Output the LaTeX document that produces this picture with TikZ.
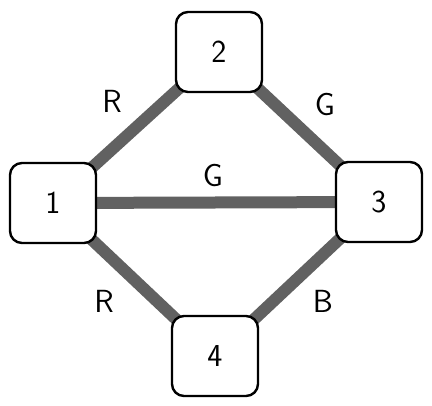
\documentclass[tikz,border=0pt]{standalone}
\usepackage{amsmath,amssymb}
\usetikzlibrary{positioning,backgrounds}

\begin{document}
\begin{tikzpicture}[x=1pt, y=-1pt,
    vertexbox/.style={draw=black, line width=2.4pt, fill=white, rounded corners=12pt,
      minimum width=86pt, minimum height=80pt, inner sep=0pt,
      font=\fontsize{32}{32}\sffamily},
    edgeline/.style={draw=black!62, line width=12pt},
    edgelabel/.style={font=\fontsize{32}{32}\sffamily}]
    \useasboundingbox (0,0) rectangle (432,406);

    % Vertices
    \node[vertexbox] (1) at (53,203) {1};
    \node[vertexbox] (2) at (219,52) {2};
    \node[vertexbox] (3) at (379,202) {3};
    \node[vertexbox] (4) at (215,356) {4};

    % Edges
    \begin{scope}[on background layer]
    \foreach \a/\b in {1/2,2/3,1/3,1/4,3/4}
      \draw[edgeline] (\a.center) -- (\b.center);
    \end{scope}

    % Labels
    \node[edgelabel] (r12) at (112,101) {R};
    \node[edgelabel] (g23) at (325,105) {G};
    \node[edgelabel] (g13) at (213,176) {G};
    \node[edgelabel] (r14) at (104,301) {R};
    \node[edgelabel] (b34) at (323,301) {B};
\end{tikzpicture}
\end{document}
